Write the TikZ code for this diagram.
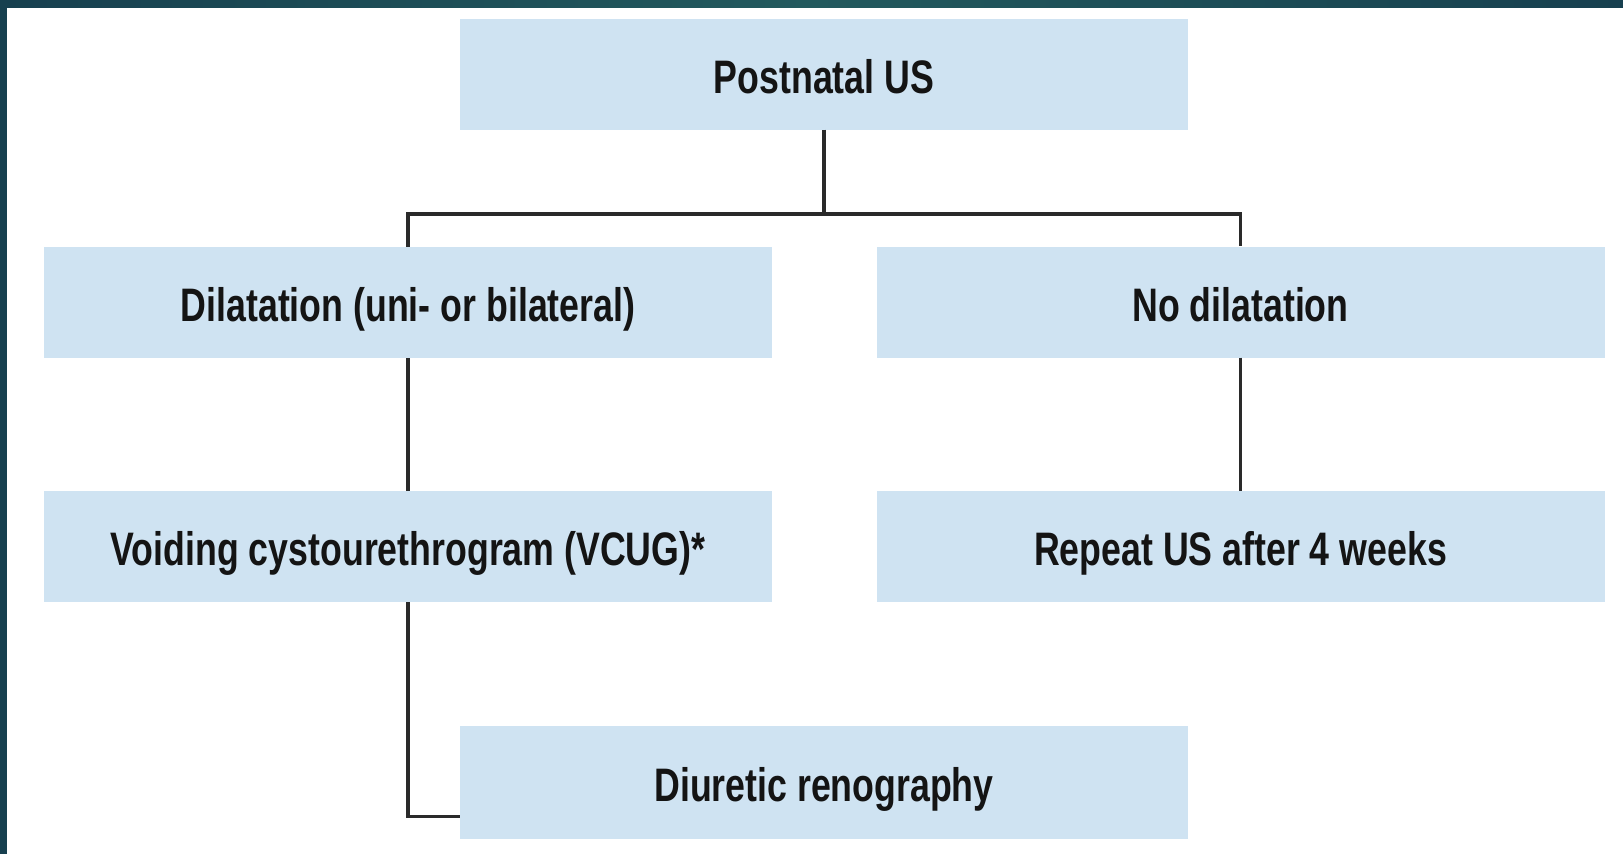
\documentclass[tikz,border=0pt]{standalone}
\usepackage{fontspec}
\newfontfamily\boxfont{Liberation Sans}[FakeStretch=0.76]
\usetikzlibrary{calc}
\definecolor{boxblue}{HTML}{CFE3F2}
\definecolor{bandA}{HTML}{17404F}
\definecolor{bandB}{HTML}{235A5E}
\definecolor{linegray}{HTML}{2A2A2A}
\tikzset{
  flowbox/.style={fill=boxblue, draw=none, minimum width=728pt, minimum height=111pt,
    inner sep=0pt, text height=48pt, text depth=10pt,
    font=\boxfont\bfseries\fontsize{47}{52}\selectfont, text=black!92},
  link/.style={draw=linegray, line width=3.4pt}
}
\begin{document}
\begin{tikzpicture}[x=1pt,y=-1pt]
\useasboundingbox (0,0) rectangle (1623,854);
\fill[white] (0,0) rectangle (1623,854);
\shade[left color=bandA, right color=bandA, middle color=bandB] (0,0) rectangle (1623,7);
\fill[bandA] (0,0) rectangle (7,854);
\node[flowbox] (post) at (824,74) {Postnatal US};
\node[flowbox] (dil) at (408,302.5) {Dilatation (uni- or bilateral)};
\node[flowbox] (nod) at (1240.5,302) {No dilatation};
\node[flowbox] (vcug) at (408,546.5) {Voiding cystourethrogram (VCUG)*};
\node[flowbox] (rep) at (1240.5,546.5) {Repeat US after 4 weeks};
\node[flowbox, minimum height=113pt] (diu) at (824,782.5) {Diuretic renography};
\coordinate (j) at (824,214);
\coordinate (d) at ($(diu.south west)+(0,-23)$);
\draw[link] (post.south) -- (j);
\draw[link] (dil.north) |- (j) -| (nod.north);
\draw[link] (dil.south) -- (vcug.north);
\draw[link] (nod.south) -- (rep.north);
\draw[link] (vcug.south) |- (d);
\end{tikzpicture}
\end{document}
